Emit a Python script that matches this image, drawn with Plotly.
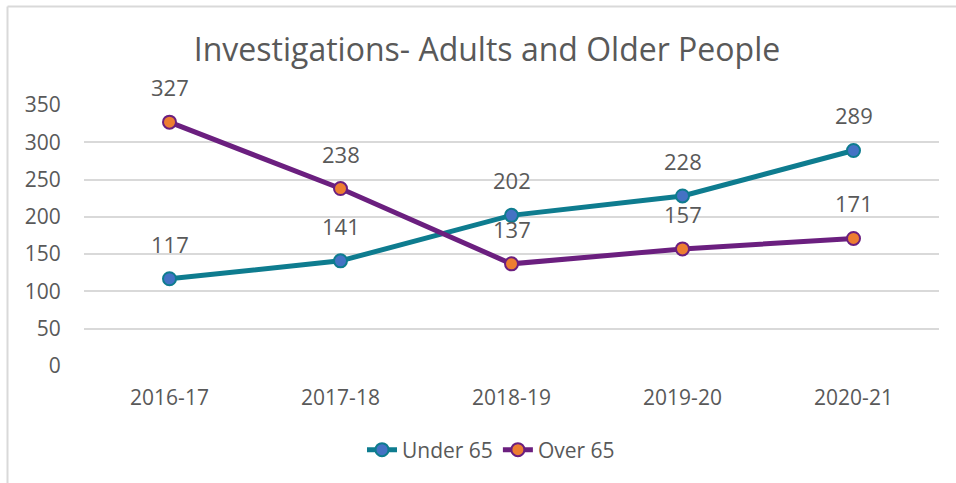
import plotly.graph_objects as go

categories = ["2016-17", "2017-18", "2018-19", "2019-20", "2020-21"]
under_65 = [117, 141, 202, 228, 289]
over_65 = [327, 238, 137, 157, 171]
y_ticks = [0, 50, 100, 150, 200, 250, 300, 350]

TEXT = "#595959"
FONT = "Open Sans"
W, H = 956, 483
L, R, T, B = 84, 17, 105, 117
pw, ph = W - L - R, H - T - B

fig = go.Figure()
fig.add_trace(go.Scatter(
    x=categories, y=under_65, name="Under 65", mode="lines+markers",
    line=dict(color="#0E7C8F", width=5),
    marker=dict(size=13, color="#4472C4", line=dict(color="#0E7C8F", width=2)),
))
fig.add_trace(go.Scatter(
    x=categories, y=over_65, name="Over 65", mode="lines+markers",
    line=dict(color="#6B1F7F", width=5),
    marker=dict(size=13, color="#ED7D31", line=dict(color="#6B1F7F", width=2)),
))

for series in (under_65, over_65):
    for c, v in zip(categories, series):
        fig.add_annotation(x=c, y=v, text=str(v), showarrow=False,
                           yshift=35, font=dict(family=FONT, size=22, color=TEXT))

def px_x(p):
    return (p - L) / pw

def px_y(p):
    return (H - B - p) / ph

fig.add_shape(type="line", xref="paper", yref="paper",
              x0=px_x(7.5), x1=px_x(W + 5), y0=px_y(6.5), y1=px_y(6.5),
              line=dict(color="#D9D9D9", width=2))
fig.add_shape(type="line", xref="paper", yref="paper",
              x0=px_x(7.5), x1=px_x(7.5), y0=px_y(6.5), y1=px_y(H + 5),
              line=dict(color="#D9D9D9", width=2))

fig.update_layout(
    width=W, height=H,
    margin=dict(l=L, r=R, t=T, b=B),
    paper_bgcolor="white", plot_bgcolor="white",
    title=dict(text="Investigations- Adults and Older People", x=487 / W, xanchor="center",
               y=1 - 50 / H, yanchor="middle",
               font=dict(family=FONT, size=32, color=TEXT)),
    font=dict(family=FONT, size=18, color=TEXT),
    showlegend=True,
    legend=dict(orientation="h", x=px_x(491), xanchor="center", y=px_y(450), yanchor="middle",
                font=dict(family=FONT, size=21, color=TEXT)),
    xaxis=dict(type="category", range=[-0.5, 4.5], showgrid=False, zeroline=False,
               showline=False, ticks="outside", ticklen=13, tickcolor="white",
               tickfont=dict(family=FONT, size=21, color=TEXT)),
    yaxis=dict(range=[0, 350], tickvals=y_ticks, showgrid=True, gridcolor="#D9D9D9",
               gridwidth=1.5, zeroline=False, showline=False,
               ticks="outside", ticklen=18, tickcolor="white",
               tickfont=dict(family=FONT, size=21, color=TEXT)),
)

fig.write_html("out.html", config={"displayModeBar": False},
               post_script="document.body.style.margin='0';")
